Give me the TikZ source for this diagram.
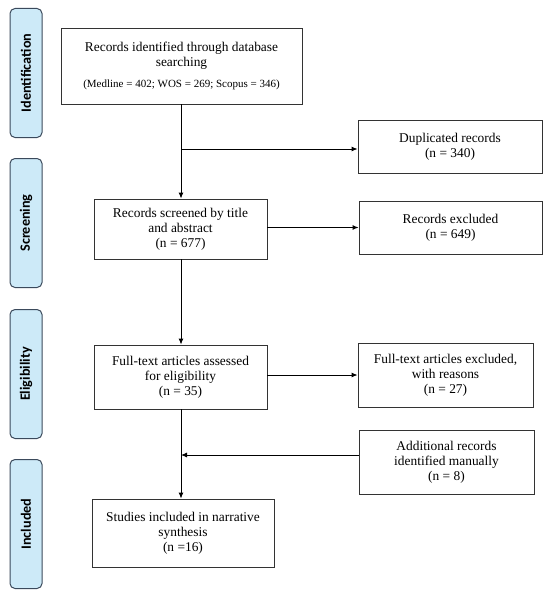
\documentclass[tikz,border=0pt]{standalone}
\usepackage{fontspec}
\setmainfont{Liberation Serif}
\newfontfamily\labelfont{Carlito}
\usetikzlibrary{arrows.meta}
\definecolor{phasefill}{HTML}{CDEAF8}
\definecolor{phaseedge}{HTML}{3B4A5C}
\begin{document}
\begin{tikzpicture}[x=1pt,y=-1pt,
  box/.style={draw=black!80, line width=0.9pt, fill=white, align=center, inner sep=2pt,
    font=\fontsize{13.4}{15}\selectfont},
  phase/.style={draw=phaseedge, line width=1pt, fill=phasefill, rounded corners=5pt,
    minimum width=129pt, minimum height=32pt, rotate=90, inner sep=0pt,
    font=\labelfont\bfseries\fontsize{14.2}{16}\selectfont},
  conn/.style={line width=0.9pt, draw=black},
  arr/.style={conn, -{Latex[length=6pt,width=5pt]}}]
\useasboundingbox (0,0) rectangle (550,599);

% phase labels
\node[phase] (pid) at (26,73) {Identification};
\node[phase] (psc) at (26,223) {Screening};
\node[phase] (pel) at (26,374) {Eligibility};
\node[phase] (pin) at (26,524) {Included};

% boxes
\node[box, minimum width=241pt, minimum height=76pt] (ident) at (181.5,66)
  {Records identified through database\\ searching\\[6pt]
   {\fontsize{11}{12}\selectfont (Medline = 402; WOS = 269; Scopus = 346)}};
\node[box, minimum width=184pt, minimum height=53pt] (dup) at (450,146.5)
  {Duplicated records\\ (n = 340)};
\node[box, minimum width=173pt, minimum height=60pt] (screen) at (180.5,229)
  {Records screened by title\\ and abstract\\ (n = 677)};
\node[box, minimum width=183pt, minimum height=53pt] (excl) at (450.5,227.5)
  {Records excluded\\ (n = 649)};
\node[box, minimum width=173pt, minimum height=64pt] (elig) at (180.5,377)
  {Full-text articles assessed\\ for eligibility\\ (n = 35)};
\node[box, minimum width=175pt, minimum height=64pt] (ftex) at (445.5,375)
  {Full-text articles excluded,\\ with reasons\\ (n = 27)};
\node[box, minimum width=175pt, minimum height=64pt] (add) at (446.5,462)
  {Additional records\\ identified manually\\ (n = 8)};
\node[box, minimum width=182pt, minimum height=68pt] (incl) at (183,533)
  {Studies included in narrative\\ synthesis\\ (n =16)};

% connectors
\coordinate (b1) at (181,149);
\coordinate (b2) at (181,455);
\draw[arr] (ident.south -| b1) -- (screen.north -| b1);
\draw[arr] (b1) -- (b1 -| dup.west);
\draw[arr] (screen.east |- excl.west) -- (excl.west);
\draw[arr] (screen.south -| b1) -- (elig.north -| b1);
\draw[arr] (elig.east |- ftex.west) -- (ftex.west);
\draw[arr] (elig.south -| b1) -- (incl.north -| b1);
\draw[arr] (add.west |- b2) -- (b2);
\end{tikzpicture}
\end{document}
